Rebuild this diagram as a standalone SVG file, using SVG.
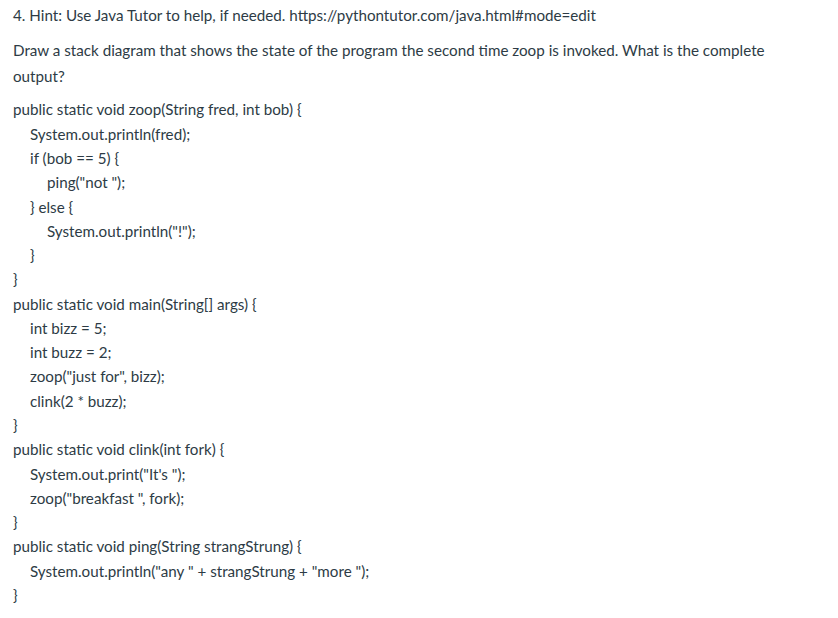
<svg xmlns="http://www.w3.org/2000/svg" width="838" height="618" viewBox="0 0 838 618">
<style>text{font-family:Lato,"Liberation Sans",sans-serif;font-size:15.2px;fill:#2d3b45}</style>
<rect width="838" height="618" fill="#fff"/>
<text x="13" y="21">4. Hint: Use Java Tutor to help, if needed. https://pythontutor.com/java.html#mode=edit</text>
<text x="13" y="56">Draw a stack diagram that shows the state of the program the second time zoop is invoked. What is the complete</text>
<text x="13" y="82">output?</text>
<text x="13" y="115">public static void zoop(String fred, int bob) {</text>
<text x="30" y="140">System.out.println(fred);</text>
<text x="30" y="164">if (bob == 5) {</text>
<text x="47" y="188">ping("not ");</text>
<text x="30" y="213">} else {</text>
<text x="47" y="237">System.out.println("!");</text>
<text x="30" y="261">}</text>
<text x="13" y="285">}</text>
<text x="13" y="310">public static void main(String[] args) {</text>
<text x="30" y="334">int bizz = 5;</text>
<text x="30" y="358">int buzz = 2;</text>
<text x="30" y="382">zoop("just for", bizz);</text>
<text x="30" y="407">clink(2 * buzz);</text>
<text x="13" y="431">}</text>
<text x="13" y="455">public static void clink(int fork) {</text>
<text x="30" y="480">System.out.print("It's ");</text>
<text x="30" y="504">zoop("breakfast ", fork);</text>
<text x="13" y="528">}</text>
<text x="13" y="552">public static void ping(String strangStrung) {</text>
<text x="30" y="577">System.out.println("any " + strangStrung + "more ");</text>
<text x="13" y="601">}</text>
</svg>
